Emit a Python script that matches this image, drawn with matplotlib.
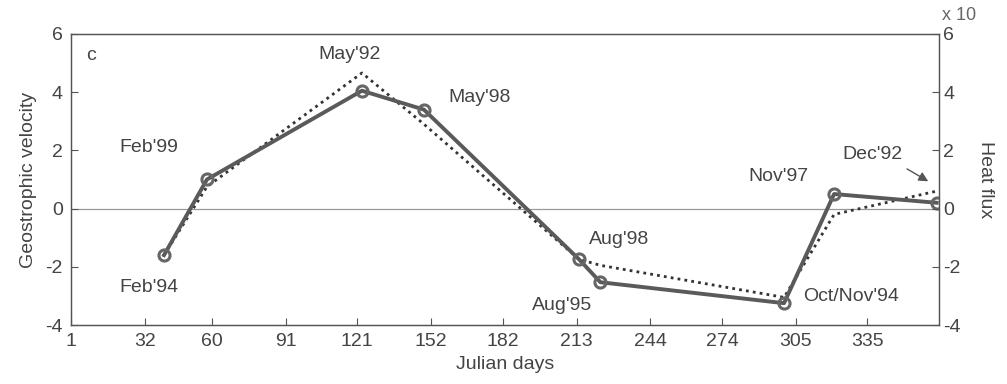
import matplotlib
matplotlib.use("Agg")
import matplotlib.pyplot as plt

plt.rcParams['font.family'] = ['Liberation Sans', 'DejaVu Sans']
plt.rcParams['axes.unicode_minus'] = False

# data
days = [40, 58, 123, 149, 214, 223, 300, 321, 364]
velocity = [-1.6, 1.0, 4.05, 3.4, -1.74, -2.53, -3.25, 0.5, 0.2]
heat_flux = [-1.6, 0.75, 4.66, 2.9, -1.74, -1.95, -3.05, -0.2, 0.6]
labels = ["Feb'94", "Feb'99", "May'92", "May'98", "Aug'98", "Aug'95",
          "Oct/Nov'94", "Nov'97", "Dec'92"]
label_pos = [(33.8, -2.7), (33.8, 2.1), (118, 5.3), (172.4, 3.8), (231, -1.07),
             (207, -3.33), (328, -3.02), (297.6, 1.1), (337, 1.86)]
xticks = [1, 32, 60, 91, 121, 152, 182, 213, 244, 274, 305, 335]
yticks = [-4, -2, 0, 2, 4, 6]

txt = '#444444'
fs = 14
fig = plt.figure(figsize=(10.07, 3.84), dpi=100)
ax = fig.add_axes([0.0705, 0.1536, 0.862, 0.758])
ax.set_xlim(1, 365)
ax.set_ylim(-4, 6)
ax.axhline(0, color='#999999', lw=0.9, zorder=1)

ax.plot(days, heat_flux, color='#333333', lw=2.0, ls=(0, (1, 1.5)), zorder=2)
ax.plot(days, velocity, color='#5a5a5a', lw=2.8, marker='o', ms=8,
        mfc='none', mec='#666666', mew=2.2, zorder=3)

for lab, (x, y) in zip(labels, label_pos):
    ax.text(x, y, lab, ha='center', va='center', fontsize=fs, color=txt)

ax.annotate('', xy=(361.5, 0.89), xytext=(350.6, 1.41),
            arrowprops=dict(arrowstyle='-|>', color='#555555', lw=1.0,
                            mutation_scale=14))

ax.text(0.018, 0.955, 'c', transform=ax.transAxes, fontsize=fs, color=txt,
        ha='left', va='top')

ax.set_xticks(xticks)
ax.set_yticks(yticks)
ax.tick_params(direction='in', length=5, width=0.8, colors='#555555',
               labelsize=fs, labelcolor=txt, pad=6)
for s in ax.spines.values():
    s.set_color('#555555')
    s.set_linewidth(0.9)
ax.set_xlabel('Julian days', fontsize=fs, color=txt, labelpad=4)
ax.set_ylabel('Geostrophic velocity', fontsize=fs, color=txt, labelpad=6)

ax2 = ax.twinx()
ax2.set_ylim(-4, 6)
ax2.set_yticks(yticks)
ax2.tick_params(direction='in', length=5, width=0.8, colors='#555555',
                labelsize=fs, labelcolor=txt, pad=3)
for s in ax2.spines.values():
    s.set_color('#555555')
    s.set_linewidth(0.9)
ax2.set_ylabel('Heat flux', fontsize=fs, color=txt, rotation=270, labelpad=24)
ax2.text(1.003, 1.065, 'x 10', transform=ax2.transAxes, fontsize=13, color='#666666',
         ha='left', va='center')

fig.savefig('out.png', dpi=100)
